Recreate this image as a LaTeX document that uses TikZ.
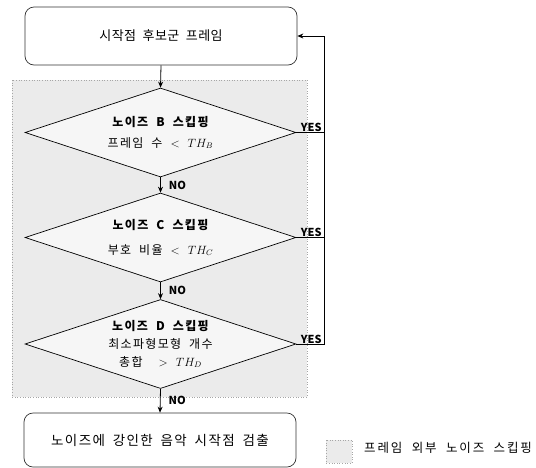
\documentclass[tikz,border=0pt]{standalone}
\usepackage{fontspec}
\setmainfont{Noto Sans CJK KR}
\newfontfamily\krT{Noto Sans CJK KR}[LetterSpace=3,WordSpace=2]
\newfontfamily\krD{Noto Sans CJK KR}[LetterSpace=11,WordSpace=2]
\newfontfamily\krE{Noto Sans CJK KR}[LetterSpace=10,WordSpace=1.8]
\newfontfamily\krL{Noto Sans CJK KR}[LetterSpace=15,WordSpace=2]
\usetikzlibrary{shapes.geometric,arrows.meta,patterns}
\begin{document}
\begin{tikzpicture}[x=1pt,y=-1pt,
  stip/.style={fill=gray!16, draw=gray!70, dotted, line width=0.6pt},
  procbox/.style={draw=black!80, line width=0.7pt, rounded corners=9pt, minimum width=272pt, inner sep=0pt},
  decis/.style={diamond, draw=black, line width=0.7pt, fill=gray!7, aspect=3.05, minimum width=271pt, minimum height=89pt, inner sep=0pt, align=center},
  arr/.style={draw=black, line width=0.8pt, -{Stealth[length=6pt,width=5pt]}},
  fb/.style={draw=black, line width=0.8pt},
  lbl/.style={font=\fontsize{11}{12}\selectfont\bfseries, inner sep=1pt}
]
\useasboundingbox (0,0) rectangle (536,467);
% shaded region
\path[stip] (12,80) rectangle (307,397);
% legend
\path[stip] (326,440) rectangle (352,463);
\node[anchor=west, inner sep=0pt, font=\krL\fontsize{12.5}{14}\selectfont] (legtext) at (364,448) {프레임 외부 노이즈 스킵핑};

% nodes
\node[procbox, minimum height=58pt, font=\krT\fontsize{13}{15}\selectfont] (start) at (161,36) {시작점 후보군 프레임};
\node[decis, font=\krD\fontsize{12}{14}\selectfont] (B) at (160.5,132.5) {{\bfseries 노이즈 B 스킵핑}\\[7pt]프레임 수 $<$\ $TH_B$};
\node[decis, font=\krD\fontsize{12}{14}\selectfont] (C) at (160.5,237.5) {{\bfseries 노이즈 C 스킵핑}\\[11pt]부호 비율 $<$\ $TH_C$};
\node[decis, font=\krD\fontsize{12}{14}\selectfont] (D) at (160.5,344) {{\bfseries 노이즈 D 스킵핑}\\[4pt]최소파형모형 개수\\[4pt]총합 \ $>$\ $TH_D$};
\node[procbox, minimum height=54pt, font=\krE\fontsize{13.5}{15}\selectfont] (stop) at (160,440) {\raisebox{-5pt}{노이즈에 강인한 음악 시작점 검출}};

% coordinates for feedback line
\coordinate (fbB) at (324,132.5);
\coordinate (fbC) at (324,237.5);
\coordinate (fbD) at (324,344);
\coordinate (fbT) at (324,36);

% connectors
\draw[arr] (start.south) -- (B.north);
\draw[arr] (B.south) -- (C.north) node[midway, anchor=west, xshift=7pt, lbl] {NO};
\draw[arr] (C.south) -- (D.north) node[midway, anchor=west, xshift=7pt, lbl] {NO};
\draw[arr] (D.south) -- (stop.north) node[midway, anchor=west, xshift=7pt, lbl] {NO};

\draw[fb] (B.east) -- (fbB) node[pos=1, anchor=south east, xshift=-1pt, yshift=-1pt, lbl] {YES};
\draw[fb] (C.east) -- (fbC) node[pos=1, anchor=south east, xshift=-1pt, yshift=-1pt, lbl] {YES};
\draw[arr] (D.east) -- (fbD) node[pos=1, anchor=south east, xshift=-1pt, yshift=-1pt, lbl] {YES} -- (fbT) -- (start.east);
\end{tikzpicture}
\end{document}
